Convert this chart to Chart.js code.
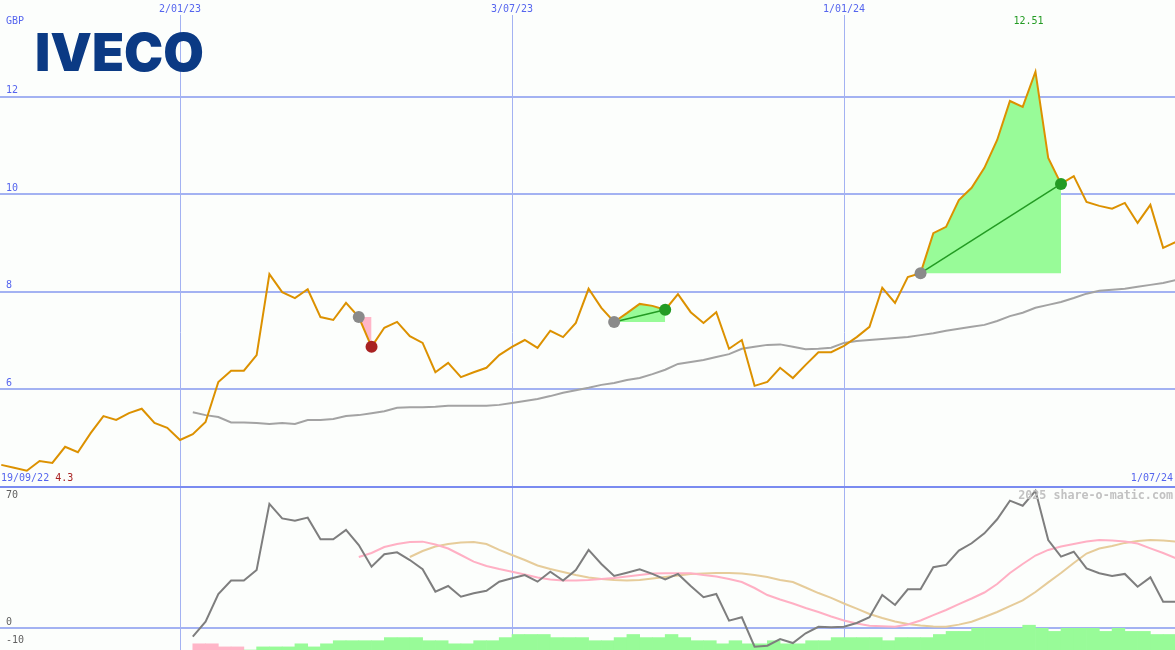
<!DOCTYPE html>
<html><head><meta charset="utf-8">
<script src="https://cdn.jsdelivr.net/npm/chart.js@4/dist/chart.umd.min.js"></script>
<style>
html,body{margin:0;padding:0;background:#fcfefc;overflow:hidden}
canvas{display:block}
</style>
</head><body>
<canvas id="c" width="1175" height="650"></canvas>
<script>
// ---------- data ----------
const firstWeek = '2022-09-26';           // first weekly point
const refDate = '2023-01-02';             // x = days since this date
const price = [
 4.45,4.39,4.33,4.53,4.49,4.82,4.71,5.10,5.45,5.37,
 5.51,5.60,5.31,5.21,4.96,5.08,5.33,6.15,6.38,6.38,
 6.70,8.36,7.99,7.87,8.05,7.48,7.42,7.77,7.48,6.87,
 7.26,7.38,7.09,6.95,6.35,6.54,6.25,6.35,6.44,6.70,
 6.87,7.01,6.85,7.20,7.07,7.36,8.06,7.67,7.38,7.56,
 7.75,7.71,7.63,7.95,7.58,7.36,7.58,6.83,7.01,6.07,
 6.15,6.44,6.23,6.50,6.76,6.76,6.89,7.07,7.28,8.08,
 7.77,8.30,8.38,9.20,9.33,9.88,10.13,10.54,11.11,11.91,
 11.79,12.51,10.74,10.21,10.37,9.84,9.76,9.70,9.82,9.41,
 9.78,8.90,9.02];
const movingAvgStart = 15;
const movingAvg = [
 5.53,5.47,5.43,5.32,5.32,5.31,5.29,5.31,5.29,5.37,
 5.37,5.39,5.45,5.47,5.51,5.55,5.62,5.63,5.63,5.64,
 5.66,5.66,5.66,5.66,5.68,5.72,5.76,5.80,5.86,5.93,
 5.98,6.03,6.09,6.13,6.19,6.23,6.31,6.40,6.52,6.56,
 6.60,6.66,6.72,6.83,6.87,6.91,6.92,6.87,6.82,6.83,
 6.85,6.95,6.99,7.01,7.03,7.05,7.07,7.11,7.15,7.20,
 7.24,7.28,7.32,7.40,7.50,7.57,7.67,7.73,7.79,7.87,
 7.96,8.02,8.04,8.06,8.10,8.14,8.18,8.24];
const oscStart = 15;
const oscillator = [
 -5.0,3.3,18.7,26.1,26.1,32.0,68.6,60.6,59.3,61.0,
 49.0,49.0,54.2,45.8,33.8,40.7,41.8,37.5,32.4,20.0,
 23.1,17.2,19.1,20.5,25.5,27.4,29.2,25.5,31.0,26.1,
 32.0,43.1,35.3,28.7,30.5,32.4,29.8,26.8,29.8,23.1,
 16.9,18.7,3.9,5.8,-10.5,-10.0,-6.3,-8.5,-3.1,0.5,
 0.2,0.5,2.6,5.8,18.1,12.6,21.3,21.3,33.5,34.8,
 42.7,46.8,52.3,60.1,70.4,67.6,75.9,48.6,39.4,42.1,
 32.9,30.2,28.7,29.8,22.7,27.9,14.4,14.4];
const fastStart = 28;
const fastSignal = [
 39.2,41.4,44.7,46.4,47.5,47.7,46.1,43.9,40.3,36.6,
 34.2,32.5,31.0,29.5,27.8,26.7,26.1,26.1,26.4,27.0,
 27.5,28.4,29.2,30.0,30.2,30.2,30.2,29.2,28.4,27.0,
 25.3,22.0,18.1,15.6,13.4,10.9,8.7,6.2,4.0,2.3,
 1.1,0.8,0.55,1.8,4.0,7.0,9.8,13.1,16.2,19.5,
 24.2,30.3,35.3,40.0,43.1,45.0,46.4,47.8,48.6,48.3,
 47.8,46.7,44.0,41.4,38.5];
const slowStart = 32;
const slowSignal = [
 39.2,42.5,45.0,46.4,47.2,47.5,46.4,43.1,40.3,37.5,
 34.5,32.5,30.9,29.2,27.8,27.0,26.4,26.2,26.4,27.3,
 28.1,28.9,29.8,30.0,30.3,30.3,30.0,29.2,28.1,26.4,
 25.3,22.3,19.2,16.5,13.4,10.6,7.6,5.4,3.4,2.1,
 1.2,0.7,0.55,1.7,3.3,5.9,8.7,12.0,15.1,19.8,
 25.1,30.3,35.9,41.1,43.9,45.3,47.0,48.1,48.6,48.3,
 47.7];
const histStart = 15;
const histogram = [
 -2,-2,-1,-1,0,1,1,1,2,1,
 2,3,3,3,3,4,4,4,3,3,
 2,2,3,3,4,5,5,5,4,4,
 4,3,3,4,5,4,4,5,4,3,
 3,2,3,2,2,3,2,2,3,3,
 4,4,4,4,3,4,4,4,5,6,
 6,7,7,7,7,8,7,6,7,7,
 7,6,7,6,6,5,5,5];
const tradeEntry = [28,48,72];
const tradeExit  = [29,52,83];
const priceTicks = [12,10,8,6];
const oscTicks = [70,0,-10];
const dateTickLabels = ['2/01/23','3/07/23','1/01/24'];
const dateTickDates  = ['2023-01-02','2023-07-03','2024-01-01'];
const currency = 'GBP';
const startLabel = '19/09/22', endLabel = '1/07/24';
const lowLabel = '4.3', highLabel = '12.51';
const logoText = 'IVECO';
const watermark = '2025 share-o-matic.com';

// ---------- helpers ----------
const DAY = 86400000;
const ref = Date.parse(refDate + 'T00:00:00Z');
const first = Date.parse(firstWeek + 'T00:00:00Z');
const dayOf = i => (first + i * 7 * DAY - ref) / DAY;
const dayOfDate = s => (Date.parse(s + 'T00:00:00Z') - ref) / DAY;
const series = (arr, start) => arr.map((v, k) => ({x: dayOf(start + k), y: v}));

const C = {
  price:'#dc9100', ma:'#a3a3a3', osc:'#7e7e7e', fast:'#ffb0c4', slow:'#e6cc9a',
  green:'#98fb98', pink:'#ffb6c8', dkgreen:'#239b23', red:'#a82222', grey:'#8a8a8a',
  grid:'#a3b2f2', sep:'#7a8bf0', text:'#5565ee', axisText:'#606060'
};
const MONO = '"DejaVu Sans Mono", "Liberation Mono", monospace';

const datasets = [];
// trade fills
tradeEntry.forEach((e, t) => {
  const x = tradeExit[t];
  const win = price[x] >= price[e];
  datasets.push({
    type:'line', yAxisID:'y', order:8,
    data: series(price.slice(e, x + 1), e),
    borderWidth:0, pointRadius:0,
    fill:{value: price[e]}, backgroundColor: win ? C.green : C.pink
  });
});
// histogram
datasets.push({
  type:'bar', yAxisID:'yb', order:9,
  data: histogram.map((v, k) => ({x: dayOf(histStart + k) + 3.5, y: [0, Math.abs(v)]})),
  backgroundColor: histogram.map(v => v < 0 ? C.pink : C.green),
  borderWidth:0, barPercentage:1, categoryPercentage:1, grouped:false
});
// lower panel lines
datasets.push({type:'line', yAxisID:'yl', order:6, data: series(slowSignal, slowStart), borderColor:C.slow, borderWidth:2, pointRadius:0, tension:0});
datasets.push({type:'line', yAxisID:'yl', order:5, data: series(fastSignal, fastStart), borderColor:C.fast, borderWidth:2, pointRadius:0, tension:0});
datasets.push({type:'line', yAxisID:'yl', order:4, data: series(oscillator, oscStart), borderColor:C.osc, borderWidth:2, pointRadius:0, tension:0});
// main panel
datasets.push({type:'line', yAxisID:'y', order:4, data: series(movingAvg, movingAvgStart), borderColor:C.ma, borderWidth:2, pointRadius:0, tension:0});
datasets.push({type:'line', yAxisID:'y', order:3, data: series(price, 0), borderColor:C.price, borderWidth:2, pointRadius:0, tension:0});
// trade lines
tradeEntry.forEach((e, t) => {
  const x = tradeExit[t];
  const win = price[x] >= price[e];
  if (!win) return;
  datasets.push({type:'line', yAxisID:'y', order:2,
    data:[{x:dayOf(e), y:price[e]}, {x:dayOf(x), y:price[x]}],
    borderColor:C.dkgreen, borderWidth:1.5, pointRadius:0});
});
// markers
const mk = [], mkCol = [];
tradeEntry.forEach((e, t) => {
  const x = tradeExit[t];
  mk.push({x:dayOf(e), y:price[e]}); mkCol.push(C.grey);
  mk.push({x:dayOf(x), y:price[x]}); mkCol.push(price[x] >= price[e] ? C.dkgreen : C.red);
});
datasets.push({type:'line', yAxisID:'y', order:1, data: mk, showLine:false,
  pointRadius:6, pointBackgroundColor: mkCol, pointBorderWidth:0, pointBorderColor:mkCol});

const decor = {
  id:'decor',
  beforeDatasetsDraw(chart){
    const ctx = chart.ctx, xs = chart.scales.x, ys = chart.scales.y, yl = chart.scales.yl;
    const W = chart.width, H = chart.height;
    ctx.save();
    ctx.strokeStyle = C.grid;
    dateTickDates.forEach(d => {
      const px = Math.round(xs.getPixelForValue(dayOfDate(d))) + 0.5;
      ctx.lineWidth = 1;
      ctx.beginPath(); ctx.moveTo(px, 15); ctx.lineTo(px, H); ctx.stroke();
    });
    ctx.lineWidth = 2;
    priceTicks.forEach(v => {
      const py = Math.round(ys.getPixelForValue(v));
      ctx.beginPath(); ctx.moveTo(0, py); ctx.lineTo(W, py); ctx.stroke();
    });
    const z = Math.round(yl.getPixelForValue(0));
    ctx.beginPath(); ctx.moveTo(0, z); ctx.lineTo(W, z); ctx.stroke();
    ctx.strokeStyle = C.sep;
    const sp = Math.round(ys.getPixelForValue(4));
    ctx.beginPath(); ctx.moveTo(0, sp); ctx.lineTo(W, sp); ctx.stroke();
    ctx.restore();
  },
  afterDatasetsDraw(chart){
    const ctx = chart.ctx, xs = chart.scales.x, ys = chart.scales.y, yl = chart.scales.yl;
    const W = chart.width;
    ctx.save();
    ctx.textBaseline = 'middle';
    ctx.font = '10px ' + MONO;
    ctx.fillStyle = C.text;
    ctx.textAlign = 'center';
    dateTickDates.forEach((d, k) => ctx.fillText(dateTickLabels[k], xs.getPixelForValue(dayOfDate(d)), 9));
    ctx.textAlign = 'left';
    ctx.fillText(currency, 6, 21);
    priceTicks.forEach(v => ctx.fillText(String(v), 6, ys.getPixelForValue(v) - 6));
    const sepY = ys.getPixelForValue(4);
    ctx.fillText(startLabel, 1, sepY - 8);
    const sw = ctx.measureText(startLabel + ' ').width;
    ctx.fillStyle = C.red;
    ctx.fillText(lowLabel, 1 + sw, sepY - 8);
    ctx.fillStyle = C.text;
    ctx.textAlign = 'right';
    ctx.fillText(endLabel, W - 2, sepY - 8);
    let pk = 0; price.forEach((v, i) => { if (v > price[pk]) pk = i; });
    ctx.fillStyle = C.dkgreen; ctx.textAlign = 'center';
    ctx.fillText(highLabel, xs.getPixelForValue(dayOf(pk)) - 7, 21);
    ctx.fillStyle = C.axisText; ctx.textAlign = 'left';
    oscTicks.forEach(v => ctx.fillText(String(v), 6, Math.min(yl.getPixelForValue(v) - 5.5, 642)));
    ctx.font = 'bold 11.7px ' + MONO;
    ctx.fillStyle = '#c2c2c2'; ctx.textAlign = 'right';
    ctx.fillText(watermark, W - 2, sepY + 9);
    ctx.font = '900 52px Inter, "Liberation Sans", Arial, sans-serif';
    ctx.textBaseline = 'alphabetic'; ctx.textAlign = 'left';
    const lw = ctx.measureText(logoText).width;
    ctx.translate(35, 71);
    ctx.scale(169 / lw, 1);
    ctx.fillStyle = '#0b3a84';
    ctx.fillText(logoText, 0, 0);
    ctx.restore();
  }
};

new Chart(document.getElementById('c'), {
  type:'line',
  data:{datasets},
  options:{
    responsive:false, animation:false, devicePixelRatio:1,
    layout:{padding:0, autoPadding:false},
    plugins:{legend:{display:false}, tooltip:{enabled:false}},
    scales:{
      x:{type:'linear', min:-98.7, max:545.5, display:false, offset:false},
      y:{min:0.655, max:13.98, display:false},
      yl:{min:-12.36, max:347.9, display:false},
      yb:{min:0, max:209.7, display:false}
    }
  },
  plugins:[decor]
});
</script>
</body></html>
